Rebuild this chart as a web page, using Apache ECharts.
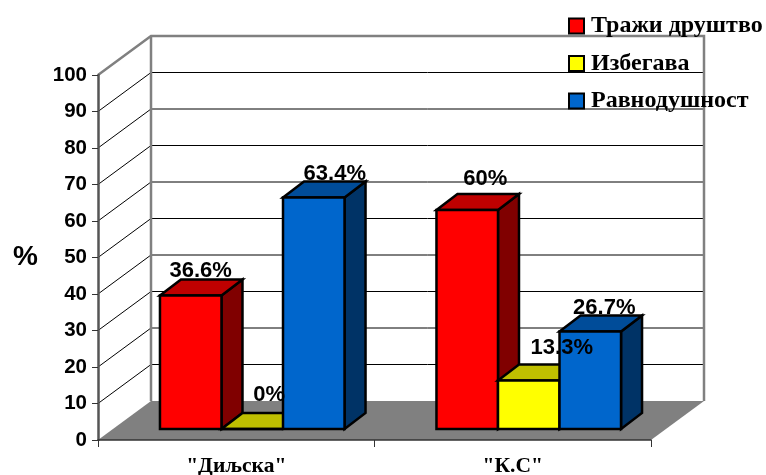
<!DOCTYPE html>
<html>
<head>
<meta charset="utf-8">
<style>
html, body { margin: 0; padding: 0; background: #fff; }
#main { width: 766px; height: 475px; }
</style>
<script src="https://cdn.jsdelivr.net/npm/echarts@6/dist/echarts.min.js"></script>
</head>
<body>
<div id="main"></div>
<script>
var categories = ['"Диљска"', '"К.С"'];
var seriesNames = ['Тражи друштво', 'Избегава', 'Равнодушност'];
var seekCompany = [36.6, 60];
var avoids = [0, 13.3];
var indifferent = [63.4, 26.7];
var yTicks = [0, 10, 20, 30, 40, 50, 60, 70, 80, 90, 100];

var seriesValues = [seekCompany, avoids, indifferent];

// front, top and side colour of the bars
var barColors = [
    ['#ff0000', '#bf0000', '#800000'],
    ['#ffff00', '#bfbf00', '#808000'],
    ['#0066cc', '#004c99', '#003366']
];

// the fake 3d: how far the back wall and the bars sit behind the axis plane
var wallDx = 53, wallDy = 39;
var barShiftX = 16, barShiftY = 11;
var barDx = 21, barDy = 16;
var barWidthRatio = 0.2225;
// hand nudges of the value labels, per series and category, from the bar top centre
var labelNudge = [
    [[10, -24], [18, -31]],
    [[17, -34], [33, -33]],
    [[21, -24], [14, -24]]
];

var sansBold = 'bold 22px "Liberation Sans", Arial, sans-serif';

var myChart = echarts.init(document.getElementById('main'));

function pointsToSeries(values) {
    return values.map(function (v, i) { return [i, v]; });
}

function renderWalls(params, api) {
    var sys = params.coordSys;
    var left = sys.x, right = sys.x + sys.width, bottom = sys.y + sys.height, top = sys.y;
    var children = [];
    children.push({
        type: 'polygon',
        shape: { points: [[left, bottom], [right, bottom], [right + wallDx, bottom - wallDy], [left + wallDx, bottom - wallDy]] },
        style: { fill: '#808080', stroke: null }
    });
    yTicks.forEach(function (t) {
        if (t === 0 || t === 100) return;
        var y = api.coord([0, t])[1];
        children.push({
            type: 'polyline',
            shape: { points: [[left, y], [left + wallDx, y - wallDy], [right + wallDx, y - wallDy]] },
            style: { fill: null, stroke: '#000', lineWidth: 1 }
        });
    });
    children.push({
        type: 'polyline',
        shape: { points: [[left, top], [left + wallDx, top - wallDy], [right + wallDx, top - wallDy], [right + wallDx, bottom - wallDy]] },
        style: { fill: null, stroke: '#808080', lineWidth: 2.5 }
    });
    children.push({
        type: 'line',
        shape: { x1: left + wallDx, y1: top - wallDy, x2: left + wallDx, y2: bottom - wallDy },
        style: { stroke: '#808080', lineWidth: 2.5 }
    });
    return { type: 'group', children: children };
}

function barBox(api, s) {
    var cat = api.value(0);
    var p = api.coord([cat, api.value(1)]);
    var base = api.coord([cat, 0]);
    var w = api.size([1, 0])[0] * barWidthRatio;
    var x0 = p[0] + barShiftX + (s - 1.5) * w;
    return { x0: x0, x1: x0 + w, top: p[1] - barShiftY, bottom: base[1] - barShiftY };
}

function makeBarRender(s) {
    return function (params, api) {
        var b = barBox(api, s);
        var edge = { stroke: '#000', lineWidth: 2.5, lineJoin: 'miter' };
        return {
            type: 'group',
            children: [
                {
                    type: 'polygon',
                    shape: { points: [[b.x1, b.top], [b.x1 + barDx, b.top - barDy], [b.x1 + barDx, b.bottom - barDy], [b.x1, b.bottom]] },
                    style: Object.assign({ fill: barColors[s][2] }, edge)
                },
                {
                    type: 'polygon',
                    shape: { points: [[b.x0, b.top], [b.x0 + barDx, b.top - barDy], [b.x1 + barDx, b.top - barDy], [b.x1, b.top]] },
                    style: Object.assign({ fill: barColors[s][1] }, edge)
                },
                {
                    type: 'polygon',
                    shape: { points: [[b.x0, b.top], [b.x1, b.top], [b.x1, b.bottom], [b.x0, b.bottom]] },
                    style: Object.assign({ fill: barColors[s][0] }, edge)
                }
            ]
        };
    };
}

function makeLabelRender(s) {
    return function (params, api) {
        var b = barBox(api, s);
        var nudge = labelNudge[s][params.dataIndex];
        return {
            type: 'text',
            z2: 100,
            style: {
                x: (b.x0 + b.x1) / 2 + nudge[0],
                y: b.top + nudge[1],
                text: api.value(1) + '%',
                font: sansBold,
                fill: '#000',
                align: 'center',
                verticalAlign: 'middle'
            }
        };
    };
}

var series = [{
    name: 'walls',
    type: 'custom',
    silent: true,
    z: 1,
    data: [[0, 0]],
    encode: { x: 0, y: 1 },
    renderItem: renderWalls
}];

seriesNames.forEach(function (name, s) {
    series.push({
        name: name,
        type: 'custom',
        z: 2 + s,
        itemStyle: { color: barColors[s][0] },
        data: pointsToSeries(seriesValues[s]),
        encode: { x: 0, y: 1 },
        renderItem: makeBarRender(s)
    });
});
seriesNames.forEach(function (name, s) {
    series.push({
        name: 'label ' + name,
        type: 'custom',
        z: 10,
        data: pointsToSeries(seriesValues[s]),
        encode: { x: 0, y: 1 },
        renderItem: makeLabelRender(s)
    });
});

var option = {
    animation: false,
    backgroundColor: '#fff',
    grid: { left: 98, top: 75, width: 553, height: 365, containLabel: false, outerBoundsMode: 'none' },
    legend: {
        data: seriesNames,
        orient: 'vertical',
        left: 568,
        top: 14,
        padding: 0,
        itemWidth: 15,
        itemHeight: 15,
        itemGap: 13.5,
        icon: 'rect',
        selectedMode: false,
        itemStyle: { borderColor: '#000', borderWidth: 2 },
        textStyle: {
            fontFamily: '"Liberation Serif", "Times New Roman", serif',
            fontWeight: 'bold',
            fontSize: 24,
            lineHeight: 24,
            color: '#000',
            padding: [0, 0, 0, 2]
        }
    },
    xAxis: {
        type: 'category',
        data: categories,
        z: 5,
        axisLine: { lineStyle: { color: '#333', width: 1.5 } },
        axisTick: { show: true, alignWithLabel: false, length: 7, lineStyle: { color: '#333', width: 1 } },
        axisLabel: {
            margin: 15,
            color: '#000',
            fontFamily: '"Liberation Serif", "Times New Roman", serif',
            fontWeight: 'bold',
            fontSize: 21.5
        }
    },
    yAxis: {
        type: 'value',
        min: 0,
        max: 100,
        interval: 10,
        z: 5,
        name: '%',
        nameLocation: 'middle',
        nameRotate: 0,
        nameGap: 60,
        nameTextStyle: {
            color: '#000',
            fontFamily: '"Liberation Sans", Arial, sans-serif',
            fontWeight: 'bold',
            fontSize: 28
        },
        splitLine: { show: false },
        axisLine: { show: true, lineStyle: { color: '#555', width: 2.5 } },
        axisTick: { show: true, length: 6, lineStyle: { color: '#333', width: 1 } },
        axisLabel: {
            margin: 11,
            color: '#000',
            fontFamily: '"Liberation Sans", Arial, sans-serif',
            fontWeight: 'bold',
            fontSize: 20.5
        }
    },
    series: series
};

myChart.setOption(option);
</script>
</body>
</html>
